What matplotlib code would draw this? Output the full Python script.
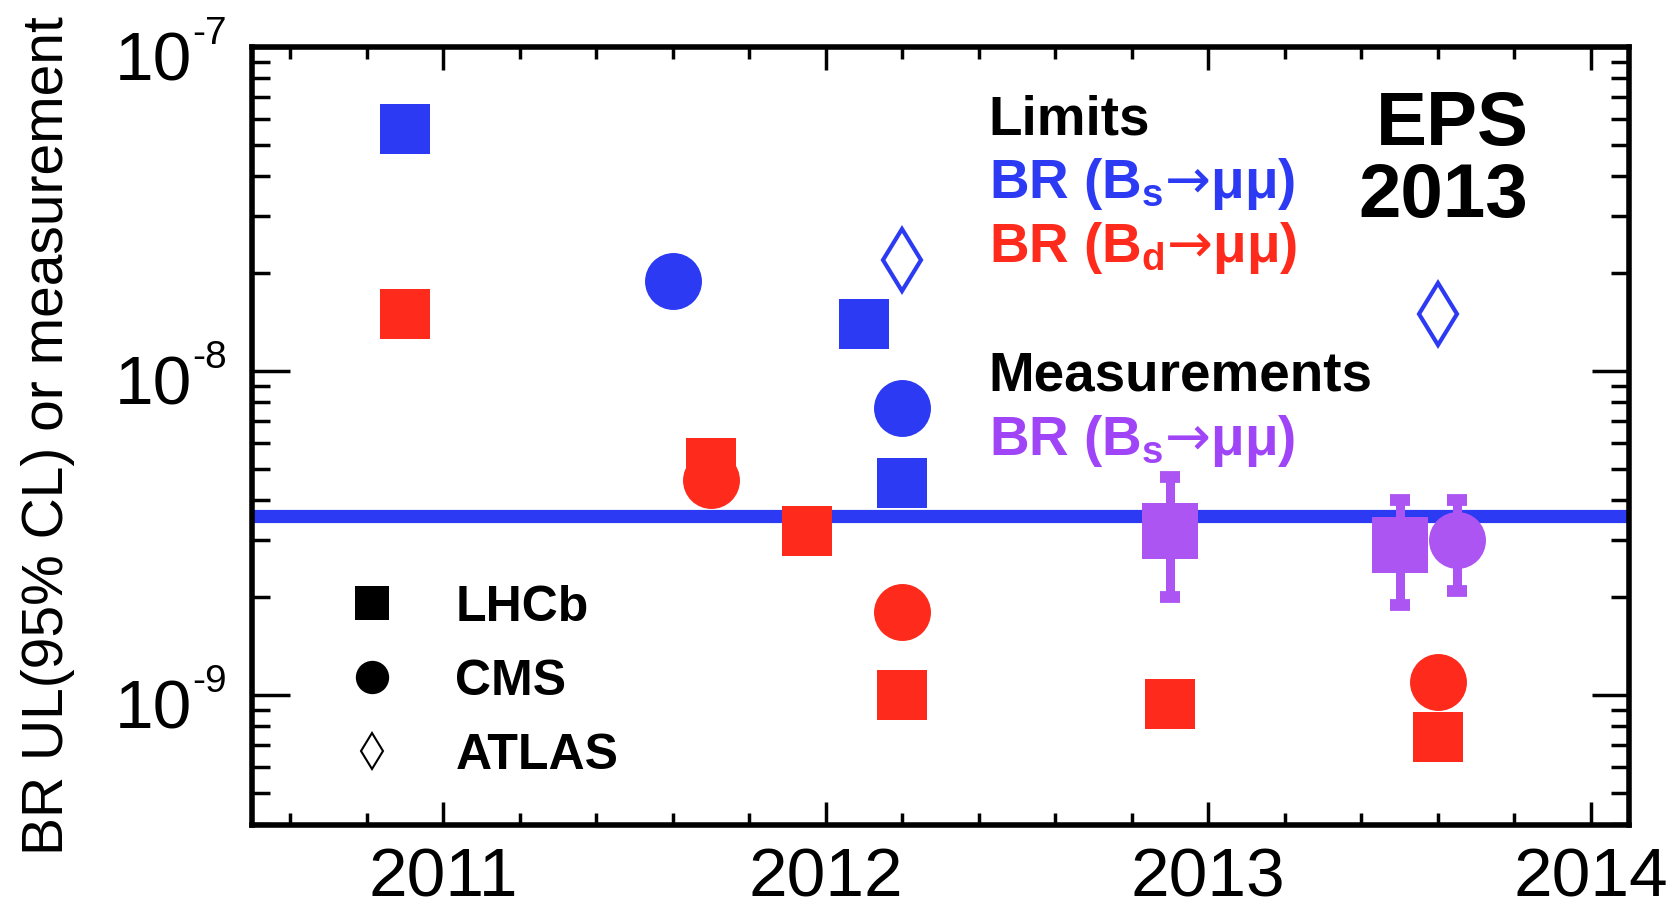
import numpy as np
import matplotlib
matplotlib.use('Agg')
import matplotlib.pyplot as plt
from matplotlib.lines import Line2D
from matplotlib.ticker import FixedLocator, MultipleLocator, LogLocator, NullFormatter

plt.rcParams['font.family'] = ['Liberation Sans', 'DejaVu Sans']
plt.rcParams['mathtext.fontset'] = 'custom'
plt.rcParams['mathtext.rm'] = 'Liberation Sans'
plt.rcParams['mathtext.bf'] = 'Liberation Sans:bold'
plt.rcParams['mathtext.sf'] = 'DejaVu Sans'
plt.rcParams['mathtext.fallback'] = 'stixsans'

BLUE = '#2d3af3'
RED = '#fe2a1c'
PURPLE = '#ad55f2'
PURPLE_TXT = '#a044f8'

# Bs -> mumu upper limits (95% CL)
bs_lhcb_t = [2010.90, 2012.10, 2012.20]
bs_lhcb_ul = [5.6e-8, 1.4e-8, 4.5e-9]
bs_cms_t = [2011.60, 2012.20]
bs_cms_ul = [1.9e-8, 7.7e-9]
bs_atlas_t = [2012.20, 2013.60]
bs_atlas_ul = [2.2e-8, 1.5e-8]

# Bd -> mumu upper limits (95% CL)
bd_lhcb_t = [2010.90, 2011.70, 2011.95, 2012.20, 2012.90, 2013.60]
bd_lhcb_ul = [1.5e-8, 5.2e-9, 3.2e-9, 1.0e-9, 9.4e-10, 7.4e-10]
bd_cms_t = [2011.70, 2012.20, 2013.60]
bd_cms_ul = [4.6e-9, 1.8e-9, 1.1e-9]

# Bs -> mumu measurements
meas_lhcb_t = [2012.90, 2013.50]
meas_lhcb_br = [3.2e-9, 2.9e-9]
meas_lhcb_up = [1.5e-9, 1.1e-9]
meas_lhcb_dn = [1.2e-9, 1.0e-9]
meas_cms_t = [2013.65]
meas_cms_br = [3.0e-9]
meas_cms_up = [1.0e-9]
meas_cms_dn = [0.9e-9]

# standard model prediction
sm_bs = 3.56e-9

years = [2011, 2012, 2013, 2014]
decades = [1e-9, 1e-8, 1e-7]
decade_exp = ['-9', '-8', '-7']

fig = plt.figure(figsize=(16.71, 9.06), dpi=100)
ax = fig.add_axes([0.1508, 0.0894, 0.8241, 0.8587])
ax.set_yscale('log')
ax.set_xlim(2010.5, 2014.1)
ax.set_ylim(3.97e-10, 1e-7)

ax.axhline(sm_bs, color=BLUE, lw=9.5, zorder=1)

sq = dict(marker='s', ms=36, mew=0, ls='none', zorder=3)
ci = dict(marker='o', ms=41, mew=0, ls='none', zorder=4)
di = dict(marker='d', ms=32, mew=3, mfc='none', ls='none', zorder=3)

ax.plot(bs_lhcb_t, bs_lhcb_ul, color=BLUE, **sq)
ax.plot(bs_cms_t, bs_cms_ul, color=BLUE, **ci)
ax.plot(bs_atlas_t, bs_atlas_ul, color=BLUE, **di)
ax.plot(bd_lhcb_t, bd_lhcb_ul, color=RED, **sq)
ax.plot(bd_cms_t, bd_cms_ul, color=RED, **ci)

# measurements with their uncertainties; the point marker gets no outline
eb = dict(color=PURPLE, markersize=41, elinewidth=6.5,
          capsize=7, capthick=8.5, zorder=5)
pts, _, _ = ax.errorbar(meas_lhcb_t, meas_lhcb_br, yerr=[meas_lhcb_dn, meas_lhcb_up],
                        fmt='s', **eb)
pts.set_markeredgewidth(0)
pts, _, _ = ax.errorbar(meas_cms_t, meas_cms_br, yerr=[meas_cms_dn, meas_cms_up],
                        fmt='o', **eb)
pts.set_markeredgewidth(0)

# axes frame and ticks
for s in ax.spines.values():
    s.set_linewidth(4)
ax.xaxis.set_major_locator(FixedLocator(years))
ax.xaxis.set_minor_locator(MultipleLocator(0.2))
ax.set_xticklabels([str(y) for y in years])
ax.yaxis.set_major_locator(FixedLocator(decades))
ax.yaxis.set_minor_locator(LogLocator(base=10, subs=np.arange(2, 10)))
ax.yaxis.set_minor_formatter(NullFormatter())
ax.tick_params(axis='x', which='major', direction='in', length=16.5, width=2.5,
               top=True, labelsize=50, pad=15.5)
ax.tick_params(axis='x', which='minor', direction='in', length=8.5, width=2.5, top=True)
ax.tick_params(axis='y', which='major', direction='in', length=27, width=2.5,
               right=True, labelleft=False)
ax.tick_params(axis='y', which='minor', direction='in', length=13, width=2.5, right=True)

# 10^n labels with a small raised exponent
for val, ex in zip(decades, decade_exp):
    ax.annotate('10', xy=(0, val), xycoords=('axes fraction', 'data'),
                xytext=(-43, -24), textcoords='offset points',
                ha='right', va='baseline', fontsize=50, annotation_clip=False)
    ax.annotate(ex, xy=(0, val), xycoords=('axes fraction', 'data'),
                xytext=(-43, 2), textcoords='offset points',
                ha='left', va='baseline', fontsize=28, annotation_clip=False)

fig.text(0.0287, 0.519, 'BR UL(95% CL) or measurement', rotation=90,
         ha='center', va='center', fontsize=41)

# key to the colours
tx = 0.535
bold = dict(transform=ax.transAxes, fontsize=39.5, fontweight='bold', va='baseline')
ax.text(tx, 0.887, 'Limits', **bold)
ax.text(tx, 0.806, r'BR ($\mathbf{B_s}\mathsf{→}$μμ)', color=BLUE, **bold)
ax.text(tx, 0.7237, r'BR ($\mathbf{B_d}\mathsf{→}$μμ)', color=RED, **bold)
ax.text(tx, 0.559, 'Measurements', **bold)
ax.text(tx, 0.4756, r'BR ($\mathbf{B_s}\mathsf{→}$μμ)', color=PURPLE_TXT, **bold)

ax.text(0.927, 0.874, 'EPS', transform=ax.transAxes, fontsize=55,
        fontweight='bold', ha='right', va='baseline')
ax.text(0.927, 0.7815, '2013', transform=ax.transAxes, fontsize=55,
        fontweight='bold', ha='right', va='baseline')

# experiment key
handles = [Line2D([], [], marker='s', color='black', ls='none', ms=24, mew=0),
           Line2D([], [], marker='o', color='black', ls='none', ms=24, mew=0),
           Line2D([], [], marker='d', color='black', mfc='none', ls='none', ms=18, mew=1.5)]
ax.legend(handles, ['LHCb', 'CMS', 'ATLAS'], loc='upper left',
          bbox_to_anchor=(0.0693, 0.3085), frameon=False, borderpad=0,
          borderaxespad=0, handlelength=1.0, handletextpad=1.16,
          labelspacing=0.56, prop={'weight': 'bold', 'size': 36}, numpoints=1)

fig.savefig('out.png', dpi=100)
